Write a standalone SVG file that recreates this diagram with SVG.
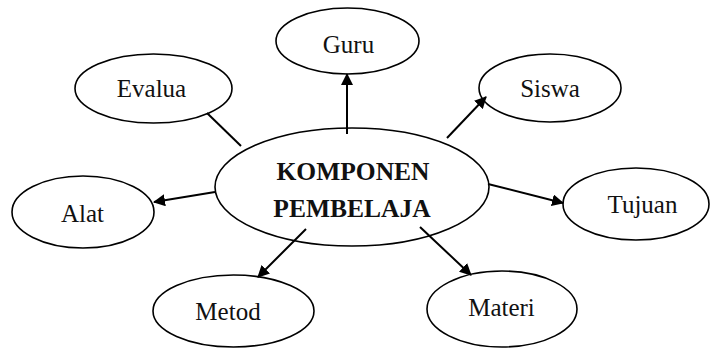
<svg xmlns="http://www.w3.org/2000/svg" width="711" height="348" viewBox="0 0 711 348">
<style>
.n ellipse{fill:#fff;stroke:#000;stroke-width:1.6}
.t{font-family:"Liberation Serif","DejaVu Serif",serif;font-size:25px;fill:#111;text-anchor:middle}
.b{font-family:"Liberation Serif","DejaVu Serif",serif;font-size:25.5px;font-weight:bold;fill:#111;text-anchor:middle}
.c line{stroke:#000;stroke-width:2}
</style>
<defs>
<marker id="ah" viewBox="0 0 12 12" refX="11" refY="6" markerWidth="12" markerHeight="12" markerUnits="userSpaceOnUse" orient="auto">
<path d="M0,0 L12,6 L0,12 Z" fill="#000"/>
</marker>
</defs>
<g id="center" class="n">
<ellipse cx="352" cy="187" rx="137" ry="59"/>
<text class="b" x="353" y="180">KOMPONEN</text>
<text class="b" x="352" y="217">PEMBELAJA</text>
</g>
<g id="evalua" class="n">
<ellipse cx="153.5" cy="88.5" rx="78.5" ry="34.5"/>
<text class="t" x="151.5" y="97">Evalua</text>
</g>
<g id="guru" class="n">
<ellipse cx="347.5" cy="41" rx="71.5" ry="33"/>
<text class="t" x="348.5" y="53">Guru</text>
</g>
<g id="siswa" class="n">
<ellipse cx="550" cy="88" rx="71" ry="34"/>
<text class="t" x="550" y="97">Siswa</text>
</g>
<g id="alat" class="n">
<ellipse cx="83" cy="212" rx="71" ry="36"/>
<text class="t" x="82.5" y="222">Alat</text>
</g>
<g id="tujuan" class="n">
<ellipse cx="636" cy="204" rx="73" ry="36"/>
<text class="t" x="642.5" y="213">Tujuan</text>
</g>
<g id="metod" class="n">
<ellipse cx="233.5" cy="311" rx="80.5" ry="36"/>
<text class="t" x="228" y="320">Metod</text>
</g>
<g id="materi" class="n">
<ellipse cx="502" cy="309" rx="75" ry="38"/>
<text class="t" x="501.5" y="316">Materi</text>
</g>
<g id="connectors" class="c">
<line x1="207" y1="113" x2="241" y2="146"/>
<line x1="347" y1="134" x2="347" y2="74" marker-end="url(#ah)"/>
<line x1="447" y1="138" x2="486" y2="97" marker-end="url(#ah)"/>
<line x1="215" y1="192" x2="154" y2="202" marker-end="url(#ah)"/>
<line x1="488" y1="184" x2="563" y2="203" marker-end="url(#ah)"/>
<line x1="306" y1="229" x2="258" y2="277" marker-end="url(#ah)"/>
<line x1="420" y1="227" x2="471" y2="275" marker-end="url(#ah)"/>
</g>
</svg>
